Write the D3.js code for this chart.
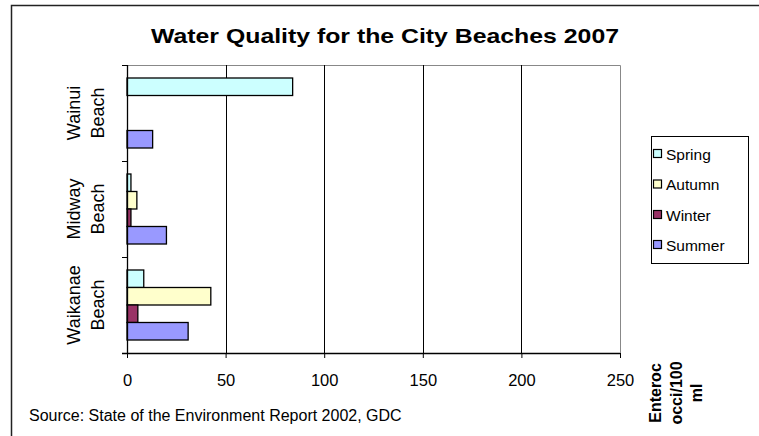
<!DOCTYPE html>
<html><head><meta charset="utf-8">
<script src="https://cdn.jsdelivr.net/npm/d3@7"></script>
<style>
body{margin:0;background:#fff;}
svg{display:block;font-family:"Liberation Sans",Arial,sans-serif;}
</style></head>
<body><svg id="c" width="759" height="436"></svg>
<script>
const title = "Water Quality for the City Beaches 2007";
const source = "Source: State of the Environment Report 2002, GDC";
const categories = ["Wainui Beach", "Midway Beach", "Waikanae Beach"];
const seriesNames = ["Spring", "Autumn", "Winter", "Summer"];
const spring = [84, 2, 8.5];
const autumn = [null, 5, 42.5];
const winter = [null, 2, 5.5];
const summer = [13, 20, 31];
const seriesColors = ["#CCFFFF", "#FFFFCC", "#993366", "#9999FF"];
const xTicks = [0, 50, 100, 150, 200, 250];
const axisTitle = ["Enteroc", "occi/100", "ml"];

const seriesValues = [spring, autumn, winter, summer];
const svg = d3.select("#c");

// outer frame (only left and top edges visible)
svg.append("path").attr("d", "M11.5,436 V5.5 H759")
  .attr("fill", "none").attr("stroke", "#222").attr("stroke-width", 1.5);

const L = 127, R = 620, T = 65, B = 353;
const x = d3.scaleLinear().domain([0, 250]).range([L, R]);
const y = d3.scaleBand().domain(categories).range([T, B]);
const ys = d3.scaleBand().domain(seriesNames).range([13, y.bandwidth() - 13]);

// plot frame top/right (gray)
svg.append("path").attr("d", `M${L},${T + 0.5} H${R + 0.5} V${B}`)
  .attr("fill", "none").attr("stroke", "#888").attr("stroke-width", 1);

// gridlines
svg.append("g").selectAll("line").data(xTicks.filter(t => t > 0 && t < 250)).join("line")
  .attr("x1", d => Math.round(x(d)) + 0.5).attr("x2", d => Math.round(x(d)) + 0.5)
  .attr("y1", T).attr("y2", B).attr("stroke", "#000").attr("stroke-width", 1);

// bars
const rows = [];
seriesNames.forEach((s, si) => categories.forEach((c, ci) => {
  const v = seriesValues[si][ci];
  if (v != null) rows.push({s, c, v, color: seriesColors[si]});
}));
svg.append("g").selectAll("rect").data(rows).join("rect")
  .attr("x", x(0)).attr("y", d => y(d.c) + ys(d.s))
  .attr("width", d => x(d.v) - x(0)).attr("height", ys.bandwidth())
  .attr("fill", d => d.color).attr("stroke", "#000").attr("stroke-width", 1.3);

// x axis
const xa = svg.append("g").attr("transform", `translate(0,${B})`)
  .call(d3.axisBottom(x).tickValues(xTicks).tickSize(5).tickSizeOuter(0));
xa.select(".domain").remove();
xa.append("line").attr("x1", L - 5).attr("x2", R).attr("y1", 0.5).attr("y2", 0.5)
  .attr("stroke", "#000").attr("stroke-width", 1.3);
xa.selectAll(".tick line").attr("stroke", "#000");
xa.selectAll(".tick text").attr("font-family", "Liberation Sans").attr("font-size", 16.5)
  .attr("fill", "#000").attr("dy", null).attr("y", 33);

// y axis
svg.append("line").attr("x1", L + 0.5).attr("x2", L + 0.5).attr("y1", T).attr("y2", B)
  .attr("stroke", "#000").attr("stroke-width", 1.3);
svg.append("g").selectAll("line").data([...categories.map(c => y(c)), B]).join("line")
  .attr("x1", L - 5).attr("x2", L).attr("y1", d => d + 0.5).attr("y2", d => d + 0.5)
  .attr("stroke", "#000");

// category labels
categories.forEach(c => {
  const parts = c.split(" ");
  const cy = y(c) + y.bandwidth() / 2;
  const g = svg.append("g").attr("transform", `translate(0,${cy}) rotate(-90)`);
  parts.forEach((p, i) => {
    g.append("text").attr("x", 0).attr("y", 80 + i * 24).attr("text-anchor", "middle")
      .attr("font-size", 18).attr("fill", "#000").text(p);
  });
});

// title
svg.append("text").attr("x", 385).attr("y", 43).attr("text-anchor", "middle")
  .attr("font-size", 20.5).attr("font-weight", "bold").attr("fill", "#000")
  .attr("textLength", 468).attr("lengthAdjust", "spacingAndGlyphs").text(title);

// source
svg.append("text").attr("x", 29).attr("y", 421).attr("font-size", 16)
  .attr("fill", "#000").text(source);

// axis title
const at = svg.append("g").attr("transform", `translate(0,393) rotate(-90)`);
axisTitle.forEach((t, i) => {
  at.append("text").attr("x", 0).attr("y", 661 + i * 20.5).attr("text-anchor", "middle")
    .attr("font-size", 16).attr("font-weight", "bold").attr("fill", "#000").text(t);
});

// legend
const lg = svg.append("g");
lg.append("rect").attr("x", 651.5).attr("y", 136.5).attr("width", 97).attr("height", 127)
  .attr("fill", "#fff").attr("stroke", "#000").attr("stroke-width", 1);
const ly = [154, 184.5, 215, 245];
seriesNames.forEach((s, i) => {
  lg.append("rect").attr("x", 653.5).attr("y", ly[i] - 4.5).attr("width", 8).attr("height", 8)
    .attr("fill", seriesColors[i]).attr("stroke", "#000").attr("stroke-width", 1.2);
  lg.append("text").attr("x", 666).attr("y", ly[i] + 5.5).attr("font-size", 15.5)
    .attr("fill", "#000").text(s);
});
</script></body></html>
